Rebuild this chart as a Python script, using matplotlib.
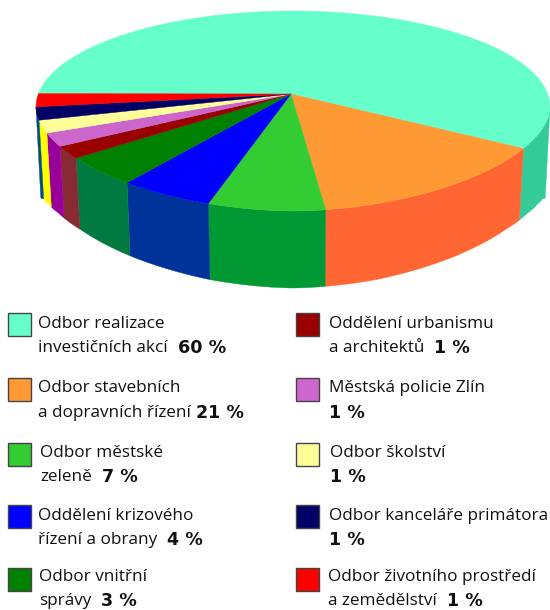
import numpy as np
import matplotlib
matplotlib.use("Agg")
import matplotlib.pyplot as plt
from matplotlib.patches import Polygon, Rectangle

# Clockwise from the red/teal boundary
departments = ["Odbor realizace investičních akcí", "Odbor stavebních a dopravních řízení",
               "Odbor městské zeleně", "Oddělení krizového řízení a obrany", "Odbor vnitřní správy",
               "Oddělení urbanismu a architektů", "Městská policie Zlín", "Odbor školství",
               "Odbor kanceláře primátora", "Odbor životního prostředí a zemědělství"]
percent_labels = [60, 21, 7, 4, 3, 1, 1, 1, 1, 1]
# Shares as actually drawn in the picture (the slices are not true to the printed labels)
drawn_shares = [54.8, 15.6, 8.2, 5.8, 4.7, 2.0, 2.2, 2.1, 2.4, 2.2]
top_colors = ["#66FFCC", "#FF9933", "#33CC33", "#0000FF", "#008000",
              "#990000", "#CC66CC", "#FFFF99", "#000066", "#FF0000"]
side_colors = ["#33CC99", "#FF6633", "#009933", "#003399", "#007A40",
               "#882A33", "#990099", "#FFFF00", "#00507F", "#FF0000"]
legend_lines = [("Odbor realizace", "investičních akcí  ", "60 %"),
                ("Odbor stavebních", "a dopravních řízení ", "21 %"),
                ("Odbor městské", "zeleně  ", "7 %"),
                ("Oddělení krizového", "řízení a obrany  ", "4 %"),
                ("Odbor vnitřní", "správy  ", "3 %"),
                ("Oddělení urbanismu", "a architektů  ", "1 %"),
                ("Městská policie Zlín", "", "1 %"),
                ("Odbor školství", "", "1 %"),
                ("Odbor kanceláře primátora", "", "1 %"),
                ("Odbor životního prostředí", "a zemědělství  ", "1 %")]

swatch_x = [8] * 5 + [296] * 5
swatch_y = [313, 378, 443, 505, 568] * 2
text_x = [38, 38, 40, 37.5, 39, 329, 329, 330, 329, 328]
line1_y = [324, 388, 453, 516, 577] * 2
line2_y = [348, 413, 477, 540, 601] * 2

APEX = (291, 94)
CX, CY, RX = 293, 107, 257
RY_FRONT, RY_BACK = 104, 96
FRONT_POWER = 2 / 1.85
WALL_SCALE = 0.982
START_DEG = -64.7


def wall_depth(u):
    return np.interp(np.abs(u), [0, .33, .66, .84, .93, .97, .99, 1], [77, 76, 73, 71, 72, 75, 79, 88])


def rim(theta):
    """Rim point for an angle measured clockwise from the bottom of the disc."""
    s, c = np.sin(theta), np.cos(theta)
    front = c >= 0
    x = np.where(front, np.sign(s) * np.abs(s) ** FRONT_POWER, s)
    y = np.where(front, RY_FRONT * np.abs(c) ** FRONT_POWER, RY_BACK * c)
    return CX - RX * x, CY + y


fig = plt.figure(figsize=(5.5, 6.1), dpi=100)
ax = fig.add_axes([0, 0, 1, 1])
ax.set_xlim(0, 550)
ax.set_ylim(610, 0)
ax.axis("off")

edges = START_DEG + np.cumsum(drawn_shares[1:]) * 3.6
edges = np.r_[START_DEG, edges]
slices = [(edges[-1], edges[0] + 360)] + [(edges[i], edges[i + 1]) for i in range(len(edges) - 1)]

# Walls: front half only
for (a0, a1), c in zip(slices, side_colors):
    pieces = []
    if min(a1, 90) > max(a0, -90):
        pieces.append((max(a0, -90), min(a1, 90)))
    if a1 > 270:
        pieces.append((270, a1))
    for p0, p1 in pieces:
        t = np.radians(np.linspace(p0, p1, 120))
        x, y = rim(t)
        u = (x - CX) / RX
        xb = CX + (x - CX) * WALL_SCALE
        yb = y + wall_depth(u)
        ax.add_patch(Polygon(np.r_[np.c_[x, y], np.c_[xb, yb][::-1]], closed=True,
                             facecolor=c, edgecolor=c, lw=0.3, zorder=2))

# Top face
for (a0, a1), c in zip(slices, top_colors):
    t = np.radians(np.linspace(a0, a1, 300))
    x, y = rim(t)
    ax.add_patch(Polygon(np.r_[[APEX], np.c_[x, y]], closed=True,
                         facecolor=c, edgecolor=c, lw=0.3, zorder=3))

# Legend
FONT = "Open Sans"
SIZE = 12.3
BOLD_SIZE = 12.6
INK = "#111111"
fig.canvas.draw()
rend = fig.canvas.get_renderer()
for i, (l1, l2, pct) in enumerate(legend_lines):
    ax.add_patch(Rectangle((swatch_x[i], swatch_y[i]), 23, 23, facecolor=top_colors[i],
                           edgecolor="#444444", lw=1.0, zorder=4))
    ax.text(text_x[i], line1_y[i], l1, family=FONT, size=SIZE, color=INK, va="center", ha="left")
    x0 = text_x[i]
    if l2:
        t = ax.text(x0, line2_y[i], l2.rstrip(), family=FONT, size=SIZE, color=INK, va="center", ha="left")
        ext = t.get_window_extent(rend)
        x0 = ext.x1 + 5 * (len(l2) - len(l2.rstrip()))
    ax.text(x0, line2_y[i], pct, family="DejaVu Sans", weight="bold", size=BOLD_SIZE, color=INK,
            va="center", ha="left")

fig.savefig("out.png", dpi=100)
